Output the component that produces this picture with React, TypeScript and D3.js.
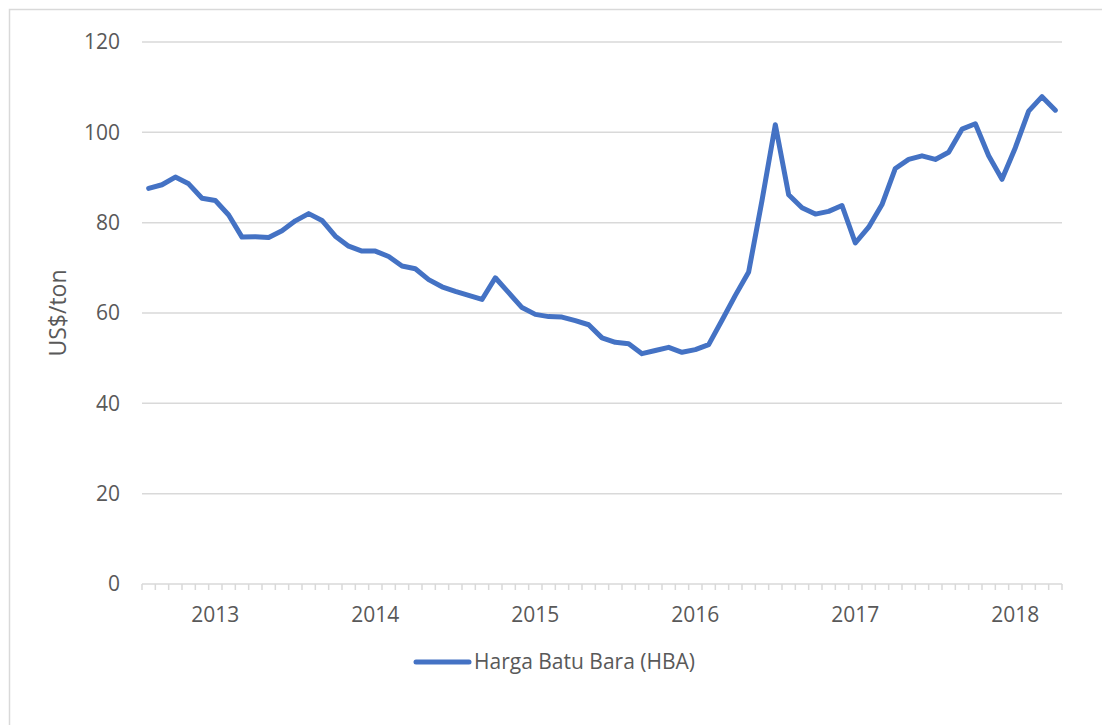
import React, { useEffect, useRef } from 'react';
import * as d3 from 'd3';

// monthly HBA, Jan 2013 .. Sep 2018
const startMonth = new Date(2013, 0, 1);
const endMonth = new Date(2018, 9, 1);
const months = d3.timeMonth.range(startMonth, endMonth).map(d3.timeFormat('%Y-%m'));

const hba = [
  87.6, 88.4, 90.1, 88.6, 85.4, 84.9, 81.7, 76.8, 76.9, 76.7, 78.2, 80.4,
  82.0, 80.5, 77.0, 74.8, 73.7, 73.7, 72.5, 70.4, 69.8, 67.4, 65.8, 64.8,
  63.9, 63.0, 67.8, 64.5, 61.2, 59.7, 59.2, 59.1, 58.3, 57.4, 54.5, 53.5,
  53.2, 51.0, 51.7, 52.4, 51.3, 51.9, 53.0, 58.4, 63.9, 69.1, 84.9, 101.7,
  86.2, 83.3, 81.9, 82.5, 83.8, 75.5, 79.0, 84.0, 92.0, 94.0, 94.8, 94.0,
  95.6, 100.7, 101.9, 94.8, 89.6, 96.6, 104.7, 107.9, 104.9,
];

const yearLabels = ['2013', '2014', '2015', '2016', '2017', '2018'];
const yTicks = [0, 20, 40, 60, 80, 100, 120];
const seriesName = 'Harga Batu Bara (HBA)';
const yTitle = 'US$/ton';

const W = 1102;
const H = 725;
const FONT = '"Open Sans", "Noto Sans", sans-serif';
const TEXT = '#595959';
const GRID = '#d9d9d9';
const BLUE = '#4472C4';

export default function App() {
  const svgRef = useRef<SVGSVGElement>(null);

  useEffect(() => {
    const svg = d3.select(svgRef.current);
    svg.selectAll('*').remove();

    const left = 142, right = 1062, top = 42, bottom = 584;

    const x = d3.scaleBand<string>().domain(months).range([left, right]).padding(0);
    const y = d3.scaleLinear().domain([0, 120]).range([bottom, top]);

    // chart border
    svg.append('rect')
      .attr('x', 9.5).attr('y', 9.5)
      .attr('width', W + 20).attr('height', H + 20)
      .attr('fill', 'white').attr('stroke', GRID).attr('stroke-width', 1.5);

    // gridlines
    svg.append('g').selectAll('line')
      .data(yTicks.filter(t => t > 0))
      .join('line')
      .attr('x1', left).attr('x2', right)
      .attr('y1', d => y(d)).attr('y2', d => y(d))
      .attr('stroke', GRID).attr('stroke-width', 1.5);

    // y tick labels
    svg.append('g').selectAll('text')
      .data(yTicks)
      .join('text')
      .attr('x', 120).attr('y', d => y(d))
      .attr('dy', '0.35em')
      .attr('text-anchor', 'end')
      .attr('font-family', FONT).attr('font-size', 21)
      .attr('fill', TEXT)
      .text(d => d);

    // x axis line + month ticks
    svg.append('line')
      .attr('x1', left).attr('x2', right)
      .attr('y1', bottom).attr('y2', bottom)
      .attr('stroke', GRID).attr('stroke-width', 1.5);

    const tickXs = months.map(m => x(m) as number).concat([right]);
    svg.append('g').selectAll('line')
      .data(tickXs)
      .join('line')
      .attr('x1', d => d).attr('x2', d => d)
      .attr('y1', bottom).attr('y2', bottom + 6)
      .attr('stroke', GRID).attr('stroke-width', 1.5);

    // year labels, centred on June
    svg.append('g').selectAll('text')
      .data(yearLabels)
      .join('text')
      .attr('x', d => (x(`${d}-06`) as number) + x.bandwidth() / 2)
      .attr('y', 615)
      .attr('dy', '0.35em')
      .attr('text-anchor', 'middle')
      .attr('font-family', FONT).attr('font-size', 21)
      .attr('fill', TEXT)
      .text(d => d);

    // y title
    svg.append('text')
      .attr('transform', 'translate(58,313) rotate(-90)')
      .attr('dy', '0.35em')
      .attr('text-anchor', 'middle')
      .attr('font-family', FONT).attr('font-size', 23)
      .attr('fill', TEXT)
      .text(yTitle);

    // the line
    const line = d3.line<number>()
      .x((_, i) => (x(months[i]) as number) + x.bandwidth() / 2)
      .y(d => y(d));

    svg.append('path')
      .datum(hba)
      .attr('d', line)
      .attr('fill', 'none')
      .attr('stroke', BLUE)
      .attr('stroke-width', 5)
      .attr('stroke-linejoin', 'round')
      .attr('stroke-linecap', 'round');

    // legend
    const lg = svg.append('g').attr('transform', 'translate(0,662)');
    lg.append('line')
      .attr('x1', 416).attr('x2', 469)
      .attr('y1', 0).attr('y2', 0)
      .attr('stroke', BLUE).attr('stroke-width', 5)
      .attr('stroke-linecap', 'round');
    lg.append('text')
      .attr('x', 474).attr('y', 0)
      .attr('dy', '0.35em')
      .attr('font-family', FONT).attr('font-size', 21)
      .attr('fill', TEXT)
      .text(seriesName);
  }, []);

  return (
    <svg
      ref={svgRef}
      width={W}
      height={H}
      viewBox={`0 0 ${W} ${H}`}
      style={{ position: 'absolute', left: 0, top: 0, background: 'white' }}
    />
  );
}
